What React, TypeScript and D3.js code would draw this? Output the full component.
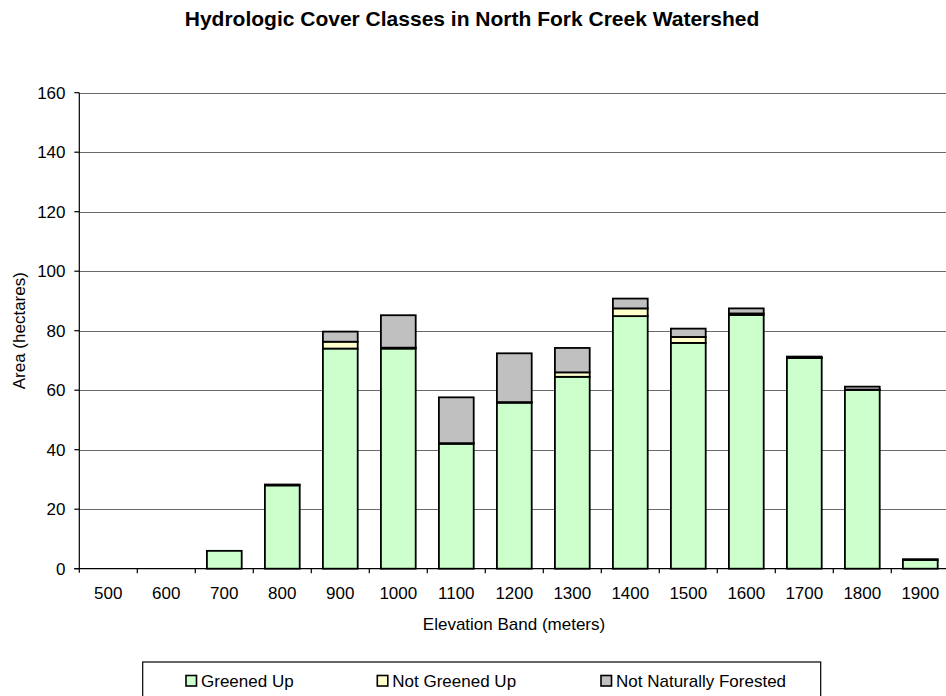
import React from "react";
import * as d3 from "d3";

const categories = ["500", "600", "700", "800", "900", "1000", "1100", "1200", "1300", "1400", "1500", "1600", "1700", "1800", "1900"];
const greenedUp = [0, 0, 6, 28, 74, 74, 42, 55.8, 64.5, 84.9, 75.9, 85.3, 70.8, 60.1, 2.9];
const notGreenedUp = [0, 0, 0, 0, 2.3, 0.3, 0.2, 0.2, 1.5, 2.6, 2.0, 0.5, 0.1, 0.1, 0];
const notNaturallyForested = [0, 0, 0, 0.3, 3.4, 10.9, 15.4, 16.4, 8.2, 3.3, 2.8, 1.7, 0.4, 1.0, 0.3];
const yTicks = [0, 20, 40, 60, 80, 100, 120, 140, 160];
const seriesNames = ["Greened Up", "Not Greened Up", "Not Naturally Forested"];
const seriesColors = ["#CCFFCC", "#FFFFCC", "#C0C0C0"];

const W = 946;
const H = 696;
const FONT = "'Liberation Sans', Arial, sans-serif";

export default function App() {
  const left = 79.3, right = 949.3, top = 92.7, bottom = 568.7;
  const x = d3.scaleBand<string>().domain(categories).range([left, right]).paddingInner(0.4).paddingOuter(0.2);
  const y = d3.scaleLinear().domain([0, 160]).range([bottom, top]);
  const step = x.step();

  const table = categories.map((c, i) => ({
    cat: c,
    s0: greenedUp[i],
    s1: notGreenedUp[i],
    s2: notNaturallyForested[i],
  }));
  const stack = d3.stack<any>().keys(["s0", "s1", "s2"]);
  const stacked = stack(table);

  const legendItems = [
    { name: seriesNames[0], color: seriesColors[0], sx: 186 },
    { name: seriesNames[1], color: seriesColors[1], sx: 377.3 },
    { name: seriesNames[2], color: seriesColors[2], sx: 601 },
  ];

  return (
    <div style={{ position: "fixed", left: 0, top: 0, width: W, height: H, background: "#fff" }}>
      <svg width={W} height={H} style={{ display: "block" }} fontFamily={FONT}>
        <rect x={0} y={0} width={W} height={H} fill="#fff" />
        <text x={472} y={25.5} textAnchor="middle" fontSize={21} fontWeight="bold" fill="#000">
          Hydrologic Cover Classes in North Fork Creek Watershed
        </text>

        {yTicks.filter((t) => t > 0).map((t) => (
          <line key={"g" + t} x1={left} x2={W} y1={Math.round(y(t)) + 0.5} y2={Math.round(y(t)) + 0.5} stroke="#6a6a6a" strokeWidth={1} />
        ))}

        {stacked.map((layer, li) => (
          <g key={"l" + li}>
            {layer.map((d, i) => {
              const h = y(d[0]) - y(d[1]);
              if (d[1] - d[0] <= 0) return null;
              return (
                <rect
                  key={i}
                  x={x(categories[i])!}
                  y={y(d[1])}
                  width={x.bandwidth()}
                  height={h}
                  fill={seriesColors[li]}
                  stroke="#000"
                  strokeWidth={1.8}
                />
              );
            })}
          </g>
        ))}

        <line x1={left} x2={left} y1={top} y2={bottom + 4} stroke="#000" strokeWidth={1.2} />
        <line x1={left - 5} x2={W} y1={bottom} y2={bottom} stroke="#000" strokeWidth={1.2} />
        {yTicks.map((t) => (
          <g key={"yt" + t}>
            <line x1={left - 5} x2={left} y1={y(t)} y2={y(t)} stroke="#000" strokeWidth={1.2} />
            <text x={65.5} y={y(t)} dy="0.35em" textAnchor="end" fontSize={17} fill="#000">
              {t}
            </text>
          </g>
        ))}
        {categories.map((c, i) => (
          <g key={"xt" + c}>
            {i > 0 && (
              <line x1={left + i * step} x2={left + i * step} y1={bottom} y2={bottom + 4.6} stroke="#000" strokeWidth={1.2} />
            )}
            <text x={x(c)! + x.bandwidth() / 2} y={599} textAnchor="middle" fontSize={17} fill="#000">
              {c}
            </text>
          </g>
        ))}
        <text x={514} y={630} textAnchor="middle" fontSize={17} fill="#000">
          Elevation Band (meters)
        </text>
        <text transform={`translate(25,${(top + bottom) / 2}) rotate(-90)`} textAnchor="middle" fontSize={17} fill="#000">
          Area (hectares)
        </text>

        <rect x={142.7} y={662} width={678} height={42} fill="#fff" stroke="#000" strokeWidth={1.2} />
        {legendItems.map((it) => (
          <g key={it.name}>
            <rect x={it.sx} y={675.5} width={10.5} height={10.5} fill={it.color} stroke="#000" strokeWidth={1.6} />
            <text x={it.sx + 15} y={687} fontSize={17} fill="#000">
              {it.name}
            </text>
          </g>
        ))}
      </svg>
    </div>
  );
}
